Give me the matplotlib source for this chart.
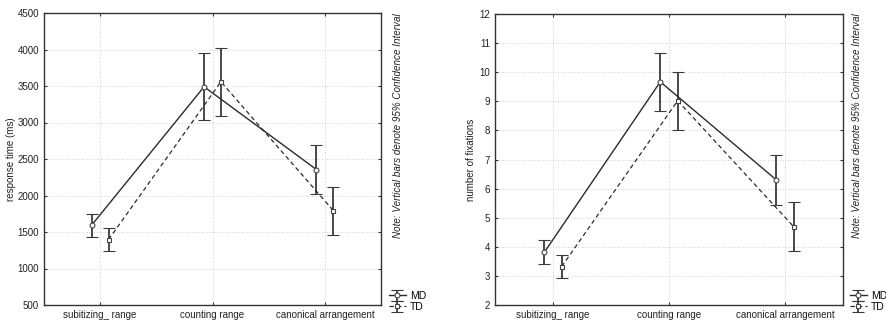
import matplotlib
matplotlib.use("Agg")
import matplotlib.pyplot as plt
import numpy as np

plt.rcParams['font.family'] = ['Liberation Sans', 'DejaVu Sans']

categories = ["subitizing_ range", "counting range", "canonical arrangement"]
series_names = ["MD", "TD"]

# Left panel: response time (ms)
rt_md = [1595, 3490, 2356]
rt_md_lo = [1428, 3028, 2027]
rt_md_hi = [1753, 3951, 2685]
rt_td = [1396, 3558, 1794]
rt_td_lo = [1236, 3087, 1455]
rt_td_hi = [1561, 4015, 2123]

# Right panel: number of fixations
fx_md = [3.81, 9.67, 6.30]
fx_md_lo = [3.41, 8.67, 5.44]
fx_md_hi = [4.25, 10.67, 7.17]
fx_td = [3.32, 9.02, 4.69]
fx_td_lo = [2.92, 8.01, 3.84]
fx_td_hi = [3.73, 10.01, 5.55]

rt_ticks = [500, 1000, 1500, 2000, 2500, 3000, 3500, 4000, 4500]
fx_ticks = [2, 3, 4, 5, 6, 7, 8, 9, 10, 11, 12]

note = "Note: Vertical bars denote 95% Confidence Interval"

fig = plt.figure(figsize=(8.87, 3.26), dpi=100)

panels = [
    dict(rect=[44/887, 1-305/326, (381-44)/887, (305-13)/326],
         md=rt_md, mdlo=rt_md_lo, mdhi=rt_md_hi,
         td=rt_td, tdlo=rt_td_lo, tdhi=rt_td_hi,
         ticks=rt_ticks, ylabel="response time (ms)",
         notex=398/887, legx=390/887, ylp=1.5),
    dict(rect=[495/887, 1-305/326, (843-495)/887, (305-14)/326],
         md=fx_md, mdlo=fx_md_lo, mdhi=fx_md_hi,
         td=fx_td, tdlo=fx_td_lo, tdhi=fx_td_hi,
         ticks=fx_ticks, ylabel="number of fixations",
         notex=857/887, legx=851/887, ylp=2.5),
]

col = '#2b2b2b'
ecol = '#3a3a3a'
off = 0.075
x = np.arange(len(categories))
fs = 7

for p in panels:
    ax = fig.add_axes(p['rect'])
    md = np.array(p['md']); td = np.array(p['td'])
    md_err = [md - np.array(p['mdlo']), np.array(p['mdhi']) - md]
    td_err = [td - np.array(p['tdlo']), np.array(p['tdhi']) - td]
    h1 = ax.errorbar(x - off, md, yerr=md_err, color=col, ecolor=ecol, lw=1.0,
                     elinewidth=1.3, capsize=4.2, capthick=1.3, marker='o', ms=3.5,
                     mfc='white', mec='#444444', mew=0.8, ls='-', label=series_names[0], zorder=3)
    h2 = ax.errorbar(x + off, td, yerr=td_err, color=col, ecolor=ecol, lw=0.9,
                     elinewidth=1.3, capsize=4.2, capthick=1.3, marker='s', ms=3.5,
                     mfc='white', mec='#444444', mew=0.8, ls=(0, (3.5, 2.5)), label=series_names[1], zorder=3)
    ax.set_xlim(-0.5, 2.5)
    ax.set_ylim(p['ticks'][0], p['ticks'][-1])
    ax.set_yticks(p['ticks'])
    ax.set_xticks(x)
    ax.set_xticklabels(categories, fontsize=fs, color='#222222')
    ax.tick_params(axis='y', labelsize=fs, labelcolor='#222222')
    ax.tick_params(direction='in', length=2.5, width=0.8, color='#333333',
                   top=True, right=True, pad=3.5)
    ax.grid(True, color='#c4c4c4', ls=(0, (1, 2)), lw=0.6)
    ax.set_axisbelow(True)
    for s in ax.spines.values():
        s.set_color('#333333'); s.set_linewidth(1.0)
    ax.set_ylabel(p['ylabel'], fontsize=fs, color='#222222', labelpad=p['ylp'])
    fig.text(p['notex'], 1-13/326, note, rotation=90, fontsize=7.1, style='italic',
             ha='center', va='top', color='#222222')
    fig.legend(handles=[h1, h2], labels=series_names, loc='lower left',
               bbox_to_anchor=(p['legx'] - 0.006, 0.03), frameon=False, fontsize=7.5,
               handlelength=1.6, handletextpad=0.4, labelspacing=0.1,
               borderpad=0.2, borderaxespad=0.2)

fig.savefig("out.png", dpi=100)
